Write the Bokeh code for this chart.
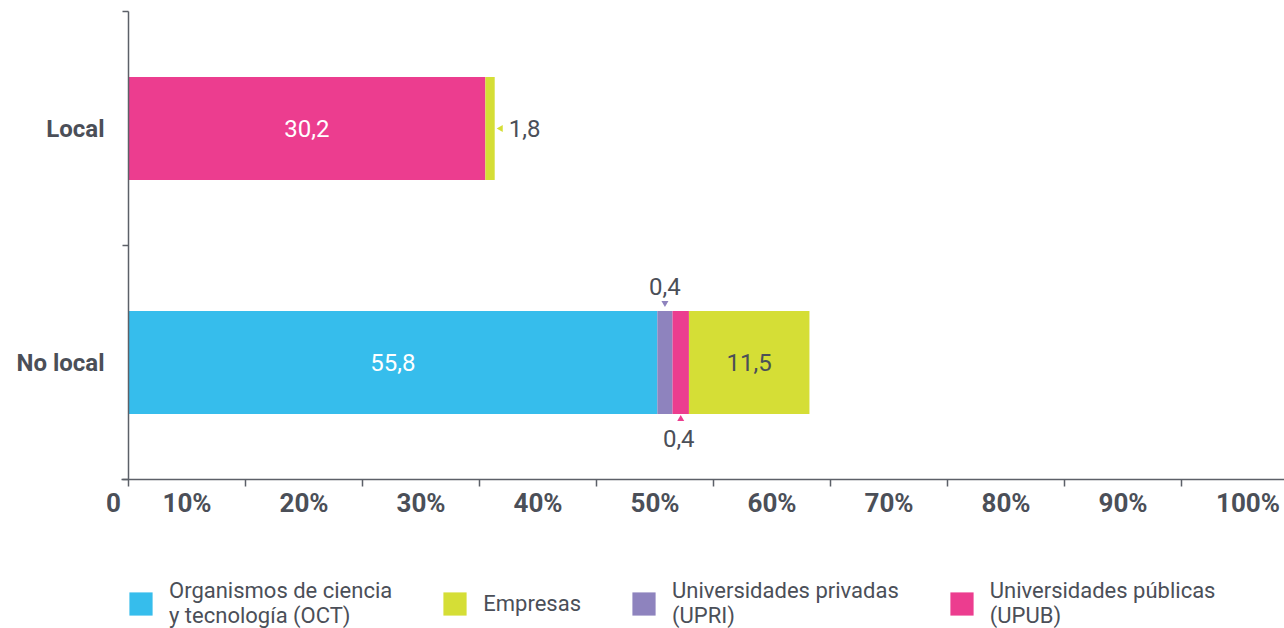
import math
from bokeh.plotting import figure
from bokeh.models import Range1d, FixedTicker, Legend, LegendItem, LinearAxis, ColumnDataSource
from bokeh.core.properties import value
from bokeh.embed import file_html
from bokeh.resources import INLINE

# ---------------- data ----------------
categories = ["Local", "No local"]
series_keys = ["oct", "upri", "upub", "emp"]          # stacking order (left to right)
series_names = {
    "oct": "Organismos de ciencia\ny tecnología (OCT)",
    "emp": "Empresas",
    "upri": "Universidades privadas\n(UPRI)",
    "upub": "Universidades públicas\n(UPUB)",
}
legend_order = ["oct", "emp", "upri", "upub"]
# bar lengths as drawn against the percentage axis
oct_len = [0.0, 45.2]
upri_len = [0.0, 1.3]
upub_len = [30.5, 1.4]
emp_len = [0.8, 10.3]
# value labels printed on the chart
oct_lbl = ["", "55,8"]
upri_lbl = ["", "0,4"]
upub_lbl = ["30,2", "0,4"]
emp_lbl = ["1,8", "11,5"]
x_ticks = [0, 10, 20, 30, 40, 50, 60, 70, 80, 90, 100]
x_tick_labels = ["0", "10%", "20%", "30%", "40%", "50%", "60%", "70%", "80%", "90%", "100%"]

colors = {"oct": "#36BDEC", "emp": "#D5DE36", "upri": "#8E83BE", "upub": "#EC3D8F"}
lengths = {"oct": oct_len, "upri": upri_len, "upub": upub_len, "emp": emp_len}
labels = {"oct": oct_lbl, "upri": upri_lbl, "upub": upub_lbl, "emp": emp_lbl}

# ---------------- layout ----------------
W, H = 1284, 628
BL, BT = 106, 7                # frame reaches the right and bottom canvas edges
px_per_x = 11.7                # pixels per percentage point
px_per_y = 234.0               # pixels per category band
AXIS_PX_X = 128                # where 0 % sits on the canvas
frame_w = W - BL
frame_h = H - BT
X0 = -(AXIS_PX_X - BL) / px_per_x
X1 = X0 + frame_w / px_per_x
Y_TOP = -0.5 - 4 / px_per_y
Y_BOT = Y_TOP + frame_h / px_per_y
Y_AXIS = len(categories) - 0.5
BAR_H = 0.44

AXIS_COL = "#5c6068"
TXT_COL = "#4b4f58"
FONT = "Roboto"

p = figure(width=W, height=H, x_range=Range1d(X0, X1), y_range=Range1d(Y_BOT, Y_TOP),
           output_backend="svg", toolbar_location=None, x_axis_location=None,
           min_border_left=BL, min_border_right=0, min_border_top=BT, min_border_bottom=0)
p.grid.visible = False
p.outline_line_color = None
p.background_fill_color = "white"

ys = list(range(len(categories)))
src = ColumnDataSource(dict(y=ys, **{k: lengths[k] for k in series_keys}))
rends = p.hbar_stack(series_keys, y="y", height=BAR_H, color=[colors[k] for k in series_keys],
                     line_color=None, source=src)
rend_by_key = dict(zip(series_keys, rends))

# ---------------- axis lines (drawn as glyphs so they stop where the reference stops) ----------------
bounds = [i - 0.5 for i in range(len(categories) + 1)]
p.segment(x0=[0], y0=[bounds[0]], x1=[0], y1=[bounds[-1]], line_color=AXIS_COL, line_width=1.5)
p.segment(x0=[-6 / px_per_x] * len(bounds), y0=bounds, x1=[0] * len(bounds), y1=bounds,
          line_color=AXIS_COL, line_width=1.5)
p.segment(x0=[-7 / px_per_x], y0=[Y_AXIS], x1=[X1], y1=[Y_AXIS], line_color=AXIS_COL, line_width=1.5)

# ---------------- value labels ----------------
in_x, in_y, in_t, in_c = [], [], [], []
out_x, out_y, out_t, out_align = [], [], [], []
tri = {"left": ([], []), "down": ([], []), "up": ([], [])}
for ci, cat in enumerate(categories):
    left = 0.0
    n_small_inner = 0
    last_key = [k for k in series_keys if lengths[k][ci] > 0][-1]
    for k in series_keys:
        w = lengths[k][ci]
        right = left + w
        txt = labels[k][ci]
        if w > 0 and txt:
            cx = (left + right) / 2
            if w >= 5:
                in_x.append(cx); in_y.append(ci); in_t.append(txt)
                in_c.append(TXT_COL if k == "emp" else "white")
            elif k == last_key:
                tri["left"][0].append(right + 6 / px_per_x); tri["left"][1].append(ci)
                out_x.append(right + 14 / px_per_x); out_y.append(ci); out_t.append(txt); out_align.append("left")
            else:
                top = ci - BAR_H / 2
                bot = ci + BAR_H / 2
                if n_small_inner % 2 == 0:
                    tri["down"][0].append(cx); tri["down"][1].append(top - 8 / px_per_y)
                    out_x.append(cx); out_y.append(top - 25 / px_per_y); out_t.append(txt); out_align.append("center")
                else:
                    tri["up"][0].append(cx); tri["up"][1].append(bot + 5 / px_per_y)
                    out_x.append(cx - 2 / px_per_x); out_y.append(bot + 25 / px_per_y); out_t.append(txt); out_align.append("center")
                n_small_inner += 1
        left = right

p.text(x=in_x, y=in_y, text=in_t, text_color=in_c, text_align="center", text_baseline="middle",
       text_font=value(FONT), text_font_size="24px")
p.text(x=out_x, y=out_y, text=out_t, text_color=TXT_COL, text_align=out_align, text_baseline="middle",
       text_font=value(FONT), text_font_size="24px")
p.scatter(tri["left"][0], tri["left"][1], marker="triangle", angle=math.pi / 2, size=7,
          color=colors["emp"], line_color=None)
p.scatter(tri["down"][0], tri["down"][1], marker="inverted_triangle", size=7,
          color=colors["upri"], line_color=None)
p.scatter(tri["up"][0], tri["up"][1], marker="triangle", size=7,
          color=colors["upub"], line_color=None)

# ---------------- x axis (fixed at the bottom of the category bands) ----------------
# labels sit between the tick marks, as in the reference; the first and last are nudged outward
label_pos = ([x_ticks[0] - 15 / px_per_x]
             + [t - 5 for t in x_ticks[1:-1]]
             + [x_ticks[-1] - 5 + 8 / px_per_x])
xa = LinearAxis(fixed_location=Y_AXIS,
                ticker=FixedTicker(ticks=label_pos, minor_ticks=x_ticks[:-1]))
xa.major_label_overrides = {pos: lab for pos, lab in zip(label_pos, x_tick_labels)}
xa.axis_line_color = None
xa.major_tick_line_color = None
xa.major_tick_out = 0
xa.major_tick_in = 0
xa.minor_tick_out = 7
xa.minor_tick_in = 0
xa.minor_tick_line_color = AXIS_COL
xa.minor_tick_line_width = 1.5
xa.major_label_text_font = FONT
xa.major_label_text_font_style = "bold"
xa.major_label_text_font_size = "26px"
xa.major_label_text_color = TXT_COL
xa.major_label_standoff = 1
p.add_layout(xa, "below")

# ---------------- y axis (category names only) ----------------
ya = p.yaxis[0]
ya.ticker = FixedTicker(ticks=ys, minor_ticks=[])
ya.major_label_overrides = {i: c for i, c in zip(ys, categories)}
ya.axis_line_color = None
ya.major_tick_line_color = None
ya.minor_tick_line_color = None
ya.major_tick_out = 0
ya.major_tick_in = 0
ya.minor_tick_out = 0
ya.minor_tick_in = 0
ya.major_label_text_font = FONT
ya.major_label_text_font_style = "bold"
ya.major_label_text_font_size = "24px"
ya.major_label_text_color = TXT_COL
ya.major_label_standoff = 2

# ---------------- legend ----------------
legend = Legend(items=[LegendItem(label=series_names[k], renderers=[rend_by_key[k]]) for k in legend_order],
                orientation="horizontal", location=(AXIS_PX_X - BL - 2, 0),
                glyph_width=29, glyph_height=29, label_standoff=14, spacing=48,
                padding=0, margin=0, border_line_color=None, background_fill_alpha=0,
                label_text_font=FONT, label_text_font_size="22px", label_text_color=TXT_COL,
                label_text_line_height=1.2)
p.add_layout(legend)

open("out.html", "w").write(file_html(p, INLINE))
